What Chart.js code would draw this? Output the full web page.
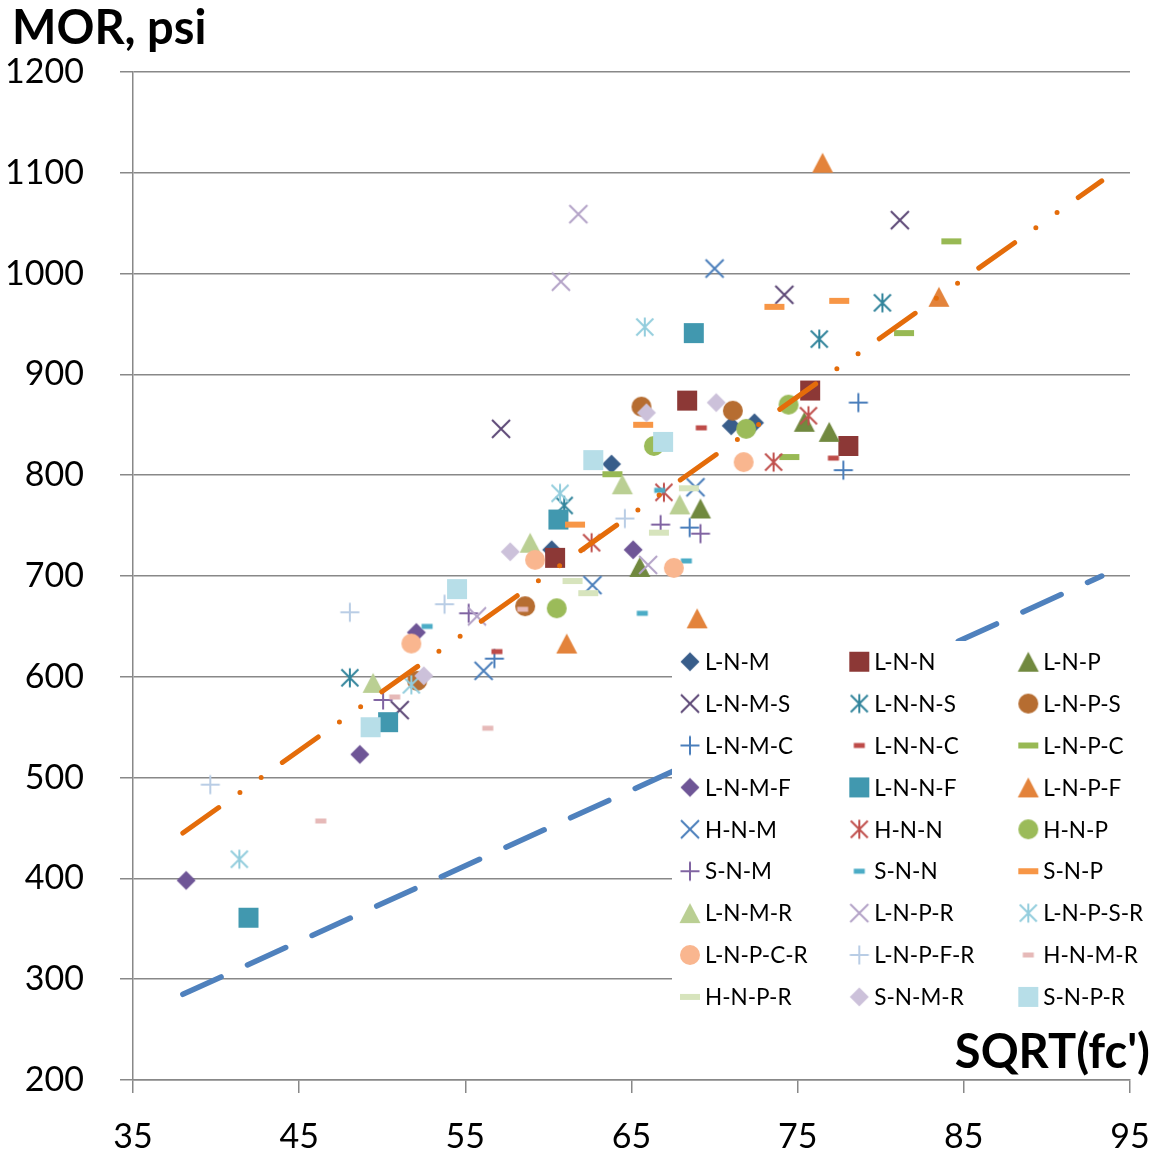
<!DOCTYPE html>
<html>
<head>
<meta charset="utf-8">
<script src="https://cdn.jsdelivr.net/npm/chart.js@4.4.1/dist/chart.umd.min.js"></script>
<style>
  html, body { margin: 0; padding: 0; background: #fff; }
  #wrap { width: 1156px; height: 1154px; }
</style>
</head>
<body>
<div id="wrap"><canvas id="mor" width="1156" height="1154"></canvas></div>
<script>
// Modulus of rupture vs square root of compressive strength, per mix.
// Each series: [SQRT(fc'), MOR psi]
const L_N_M     = [[60.2, 726], [63.8, 811], [71.0, 849], [72.4, 852]];
const L_N_N     = [[60.4, 718], [68.35, 874], [75.75, 884], [78.05, 829]];
const L_N_P     = [[65.5, 709], [69.15, 767], [75.4, 853], [76.9, 843]];
const L_N_M_S   = [[51.05, 567], [57.15, 846], [74.2, 979], [81.15, 1053]];
const L_N_N_S   = [[48.05, 599], [60.95, 770], [76.3, 935], [80.1, 971]];
const L_N_P_S   = [[52.1, 596], [58.6, 670], [65.6, 868], [71.1, 864]];
const L_N_M_C   = [[56.75, 618], [68.5, 748], [77.75, 805], [78.65, 872]];
const L_N_N_C   = [[56.9, 625], [69.2, 847], [77.15, 817]];
const L_N_P_C   = [[63.85, 801], [74.5, 818], [81.4, 941], [84.25, 1032]];
const L_N_M_F   = [[38.2, 398], [48.65, 523], [52.05, 644], [65.1, 726]];
const L_N_N_F   = [[41.95, 361], [50.35, 555], [60.6, 756], [68.75, 941]];
const L_N_P_F   = [[61.1, 633], [68.95, 658], [76.5, 1110], [83.5, 977]];
const H_N_M     = [[56.1, 606], [62.65, 691], [68.85, 788], [70.0, 1005]];
const H_N_N     = [[62.6, 733], [66.95, 783], [73.55, 813], [75.65, 859]];
const H_N_P     = [[60.5, 668], [66.35, 829], [71.9, 846], [74.45, 870]];
const S_N_M     = [[50.05, 577], [55.2, 663], [66.75, 751], [69.15, 742]];
const S_N_N     = [[52.7, 650], [65.65, 663], [66.7, 785], [68.3, 715]];
const S_N_P     = [[61.6, 751], [65.7, 850], [73.6, 967], [77.5, 973]];
const L_N_M_R   = [[49.45, 594], [58.9, 733], [64.45, 791], [67.9, 771]];
const L_N_P_R   = [[55.7, 660], [60.75, 992], [61.8, 1059], [66.0, 711]];
const L_N_P_S_R = [[41.4, 419], [51.75, 592], [60.7, 782], [65.8, 947]];
const L_N_P_C_R = [[51.75, 633], [59.2, 716], [67.55, 708], [71.75, 813]];
const L_N_P_F_R = [[39.65, 493], [48.05, 664], [53.75, 672], [64.6, 757]];
const H_N_M_R   = [[46.3, 457], [50.75, 580], [56.35, 549], [58.45, 667]];
const H_N_P_R   = [[61.45, 695], [62.4, 683], [66.65, 743], [68.45, 787]];
const S_N_M_R   = [[52.5, 601], [57.7, 724], [65.9, 862], [70.1, 872]];
const S_N_P_R   = [[49.3, 550], [54.5, 687], [62.7, 815], [66.9, 833]];

// Reference lines: best fit and 7.5*SQRT(fc')
const fitLine = [[38, 445], [93.3, 1092]];
const aciLine = [[38, 285], [93.3, 700]];

const seriesNames = ['L-N-M', 'L-N-N', 'L-N-P', 'L-N-M-S', 'L-N-N-S', 'L-N-P-S',
  'L-N-M-C', 'L-N-N-C', 'L-N-P-C', 'L-N-M-F', 'L-N-N-F', 'L-N-P-F',
  'H-N-M', 'H-N-N', 'H-N-P', 'S-N-M', 'S-N-N', 'S-N-P',
  'L-N-M-R', 'L-N-P-R', 'L-N-P-S-R', 'L-N-P-C-R', 'L-N-P-F-R', 'H-N-M-R',
  'H-N-P-R', 'S-N-M-R', 'S-N-P-R'];
const seriesData = [L_N_M, L_N_N, L_N_P, L_N_M_S, L_N_N_S, L_N_P_S,
  L_N_M_C, L_N_N_C, L_N_P_C, L_N_M_F, L_N_N_F, L_N_P_F,
  H_N_M, H_N_N, H_N_P, S_N_M, S_N_N, S_N_P,
  L_N_M_R, L_N_P_R, L_N_P_S_R, L_N_P_C_R, L_N_P_F_R, H_N_M_R,
  H_N_P_R, S_N_M_R, S_N_P_R];

const yTicks = [200, 300, 400, 500, 600, 700, 800, 900, 1000, 1100, 1200];
const xTicks = [35, 45, 55, 65, 75, 85, 95];

// marker shape and colour per series
const seriesStyle = [
  ['diamond', '#385D8A'], ['square', '#8C3836'], ['triangle', '#71893F'],
  ['x', '#5C4776'], ['star', '#31849B'], ['circle', '#B66D31'],
  ['plus', '#4A7EBB'], ['dashS', '#BE4B48'], ['dashL', '#98B954'],
  ['diamond', '#6E5596'], ['square', '#4198AF'], ['triangle', '#E3833B'],
  ['x', '#4A7EBB'], ['star', '#C0504D'], ['circle', '#9BBB59'],
  ['plus', '#8064A2'], ['dashS', '#4BACC6'], ['dashL', '#F79646'],
  ['triangle', '#BACF93'], ['x', '#B3A2C7'], ['star', '#93CDDD'],
  ['circle', '#F9B68F'], ['plus', '#B9CDE5'], ['dashS', '#E6B9B8'],
  ['dashL', '#D7E4BD'], ['diamond', '#CCC1DA'], ['square', '#B7DEE8']
];

function makeMarker(kind, color) {
  const S = 26, m = S / 2;
  const c = document.createElement('canvas');
  c.width = S; c.height = S;
  const g = c.getContext('2d');
  g.fillStyle = color; g.strokeStyle = color; g.lineWidth = 2;
  g.beginPath();
  switch (kind) {
    case 'diamond':
      g.moveTo(m, m - 9.5); g.lineTo(m + 9.5, m); g.lineTo(m, m + 9.5); g.lineTo(m - 9.5, m);
      g.closePath(); g.fill(); break;
    case 'square':
      g.fillRect(m - 10, m - 10, 20, 20); break;
    case 'triangle':
      g.moveTo(m, m - 10); g.lineTo(m + 10.5, m + 10); g.lineTo(m - 10.5, m + 10);
      g.closePath(); g.fill(); break;
    case 'circle':
      g.arc(m, m, 10, 0, Math.PI * 2); g.fill(); break;
    case 'x':
      g.moveTo(m - 9, m - 9); g.lineTo(m + 9, m + 9);
      g.moveTo(m - 9, m + 9); g.lineTo(m + 9, m - 9); g.stroke(); break;
    case 'plus':
      g.moveTo(m - 9.5, m); g.lineTo(m + 9.5, m);
      g.moveTo(m, m - 9.5); g.lineTo(m, m + 9.5); g.stroke(); break;
    case 'star':
      g.moveTo(m, m - 9.5); g.lineTo(m, m + 9.5);
      g.moveTo(m - 8.5, m - 8.5); g.lineTo(m + 8.5, m + 8.5);
      g.moveTo(m - 8.5, m + 8.5); g.lineTo(m + 8.5, m - 8.5); g.stroke(); break;
    case 'dashS':
      g.fillRect(m - 5.5, m - 2.5, 11, 5); break;
    case 'dashL':
      g.fillRect(m - 10, m - 3, 20, 6); break;
  }
  return c;
}

const markers = seriesStyle.map(([k, col]) => makeMarker(k, col));

const datasets = [
  {
    label: 'fit', data: fitLine.map(([x, y]) => ({x, y})), showLine: true,
    borderColor: '#E46C0A', borderWidth: 5, borderCapStyle: 'round',
    borderDash: [44, 26, 0, 26, 0, 26], pointRadius: 0, order: 0
  },
  {
    label: 'aci', data: aciLine.map(([x, y]) => ({x, y})), showLine: true,
    borderColor: '#4F81BD', borderWidth: 5.5, borderCapStyle: 'round',
    borderDash: [42, 29], pointRadius: 0, order: 0
  }
];
seriesData.forEach((pts, i) => {
  datasets.push({
    label: seriesNames[i],
    data: pts.map(([x, y]) => ({x, y})),
    pointStyle: markers[i],
    pointRadius: 10,
    showLine: false,
    order: 100 - i
  });
});

const gridColor = '#888888';
const tickFont = { family: 'Lato', size: 34 };

// axis captions and the series key
const overlay = {
  id: 'overlay',
  afterDatasetsDraw(chart) {
    const ctx = chart.ctx;
    ctx.save();
    // key box
    const bx = 672, by = 641, bw = 478, bh = 377;
    ctx.fillStyle = '#ffffff';
    ctx.fillRect(bx, by, bw, bh);
    const colMarker = [690, 859.3, 1028.3];
    ctx.font = '22.5px Lato';
    ctx.fillStyle = '#000';
    ctx.textBaseline = 'middle';
    ctx.textAlign = 'left';
    seriesNames.forEach((name, i) => {
      const col = i % 3, row = Math.floor(i / 3);
      const cx = colMarker[col], cy = 661.7 + row * 41.9;
      const mk = markers[i];
      ctx.drawImage(mk, cx - mk.width / 2, cy - mk.height / 2);
      ctx.fillText(name, cx + 15, cy + 1);
    });
    // axis captions
    ctx.font = 'bold 47px Lato';
    ctx.textBaseline = 'alphabetic';
    ctx.textAlign = 'left';
    ctx.fillText('MOR, psi', 12, 44);
    ctx.textAlign = 'right';
    ctx.fillText("SQRT(fc')", 1150, 1068);
    ctx.restore();
  }
};

new Chart(document.getElementById('mor'), {
  type: 'scatter',
  data: { datasets },
  options: {
    responsive: false,
    animation: false,
    events: [],
    layout: { padding: { left: 0, right: 26, top: 72, bottom: 0 } },
    plugins: { legend: { display: false }, tooltip: { enabled: false } },
    scales: {
      x: {
        type: 'linear', min: 35, max: 95,
        afterBuildTicks(scale) { scale.ticks = xTicks.map(v => ({ value: v })); },
        afterFit(scale) { scale.height = 74; scale.paddingLeft = 0; scale.paddingRight = 0; },
        ticks: { font: tickFont, color: '#000', padding: 24, maxRotation: 0, autoSkip: false,
                 callback: v => String(v) },
        grid: { drawOnChartArea: false, drawTicks: true, tickLength: 13, color: gridColor, lineWidth: 1.5 },
        border: { display: true, color: gridColor, width: 1.5 }
      },
      y: {
        type: 'linear', min: 200, max: 1200,
        afterBuildTicks(scale) { scale.ticks = yTicks.map(v => ({ value: v })); },
        afterFit(scale) { scale.width = 133; scale.paddingTop = 0; scale.paddingBottom = 0; },
        ticks: { font: tickFont, color: '#000', padding: 36, autoSkip: false,
                 callback: v => String(v) },
        grid: { drawTicks: true, tickLength: 13, color: gridColor, lineWidth: 1.5 },
        border: { display: true, color: gridColor, width: 1.5 }
      }
    }
  },
  plugins: [overlay]
});
</script>
</body>
</html>
